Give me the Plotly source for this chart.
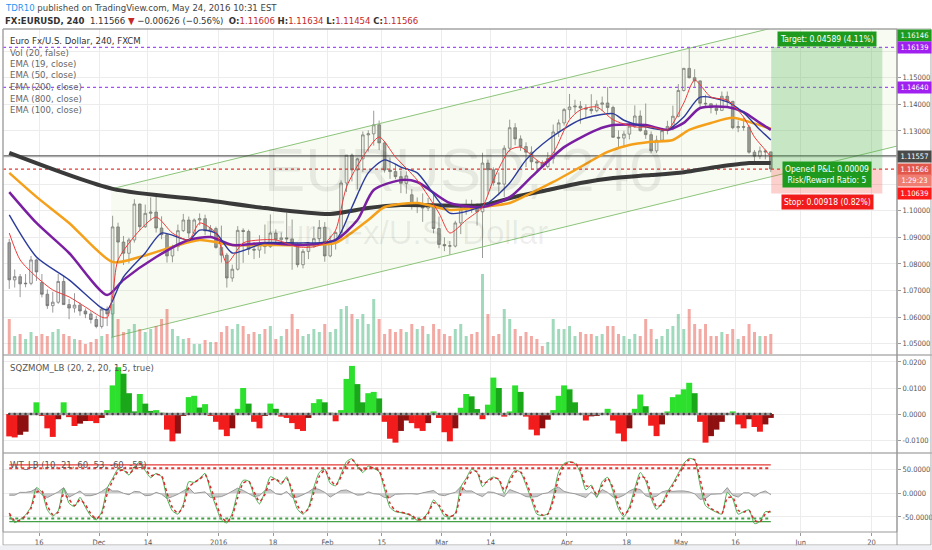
import pandas as pd
import plotly.graph_objects as go

FONT = "Liberation Sans Narrow, DejaVu Sans Condensed, Roboto, sans-serif"

# ---- daily bars (FX:EURUSD, Nov 2015 - May 2016) ----
dates = [
    '2015-11-06',
    '2015-11-09', '2015-11-10', '2015-11-11', '2015-11-12', '2015-11-13',
    '2015-11-16', '2015-11-17', '2015-11-18', '2015-11-19', '2015-11-20',
    '2015-11-23', '2015-11-24', '2015-11-25', '2015-11-26', '2015-11-27',
    '2015-11-30', '2015-12-01', '2015-12-02', '2015-12-03', '2015-12-04',
    '2015-12-07', '2015-12-08', '2015-12-09', '2015-12-10', '2015-12-11',
    '2015-12-14', '2015-12-15', '2015-12-16', '2015-12-17', '2015-12-18',
    '2015-12-21', '2015-12-22', '2015-12-23', '2015-12-24',
    '2015-12-28', '2015-12-29', '2015-12-30', '2015-12-31',
    '2016-01-04', '2016-01-05', '2016-01-06', '2016-01-07', '2016-01-08',
    '2016-01-11', '2016-01-12', '2016-01-13', '2016-01-14', '2016-01-15',
    '2016-01-18', '2016-01-19', '2016-01-20', '2016-01-21', '2016-01-22',
    '2016-01-25', '2016-01-26', '2016-01-27', '2016-01-28', '2016-01-29',
    '2016-02-01', '2016-02-02', '2016-02-03', '2016-02-04', '2016-02-05',
    '2016-02-08', '2016-02-09', '2016-02-10', '2016-02-11', '2016-02-12',
    '2016-02-15', '2016-02-16', '2016-02-17', '2016-02-18', '2016-02-19',
    '2016-02-22', '2016-02-23', '2016-02-24', '2016-02-25', '2016-02-26',
    '2016-02-29', '2016-03-01', '2016-03-02', '2016-03-03', '2016-03-04',
    '2016-03-07', '2016-03-08', '2016-03-09', '2016-03-10', '2016-03-11',
    '2016-03-14', '2016-03-15', '2016-03-16', '2016-03-17', '2016-03-18',
    '2016-03-21', '2016-03-22', '2016-03-23', '2016-03-24', '2016-03-25',
    '2016-03-28', '2016-03-29', '2016-03-30', '2016-03-31', '2016-04-01',
    '2016-04-04', '2016-04-05', '2016-04-06', '2016-04-07', '2016-04-08',
    '2016-04-11', '2016-04-12', '2016-04-13', '2016-04-14', '2016-04-15',
    '2016-04-18', '2016-04-19', '2016-04-20', '2016-04-21', '2016-04-22',
    '2016-04-25', '2016-04-26', '2016-04-27', '2016-04-28', '2016-04-29',
    '2016-05-02', '2016-05-03', '2016-05-04', '2016-05-05', '2016-05-06',
    '2016-05-09', '2016-05-10', '2016-05-11', '2016-05-12', '2016-05-13',
    '2016-05-16', '2016-05-17', '2016-05-18', '2016-05-19', '2016-05-20',
    '2016-05-23', '2016-05-24',
]

opens = [
    1.0880,
    1.0740, 1.0752, 1.0725, 1.0727, 1.0815,
    1.0730, 1.0686, 1.0643, 1.0656, 1.0734,
    1.0647, 1.0634, 1.0645, 1.0623, 1.0612,
    1.0591, 1.0565, 1.0630, 1.0612, 1.0939,
    1.0882, 1.0840, 1.0890, 1.1025, 1.0940,
    1.0990, 1.0995, 1.0935, 1.0910, 1.0830,
    1.0865, 1.0925, 1.0965, 1.0916,
    1.0965, 1.0970, 1.0924, 1.0933,
    1.0862, 1.0833, 1.0747, 1.0780, 1.0926,
    1.0922, 1.0855, 1.0852, 1.0875, 1.0865,
    1.0916, 1.0891, 1.0898, 1.0894, 1.0874,
    1.0797, 1.0847, 1.0867, 1.0895, 1.0937,
    1.0830, 1.0886, 1.0918, 1.1104, 1.1209,
    1.1153, 1.1195, 1.1285, 1.1289, 1.1323,
    1.1255, 1.1153, 1.1147, 1.1128, 1.1103,
    1.1060, 1.1016, 1.1016, 1.1010, 1.1024,
    1.0933, 1.0873, 1.0868, 1.0867, 1.0954,
    1.1003, 1.1015, 1.1011, 1.0996, 1.1179,
    1.1154, 1.1105, 1.1100, 1.1235, 1.1312,
    1.1270, 1.1241, 1.1220, 1.1184, 1.1180,
    1.1166, 1.1196, 1.1296, 1.1330, 1.1380,
    1.1390, 1.1393, 1.1386, 1.1382, 1.1376,
    1.1400, 1.1405, 1.1388, 1.1276, 1.1273,
    1.1288, 1.1318, 1.1356, 1.1301, 1.1286,
    1.1225, 1.1265, 1.1301, 1.1317, 1.1355,
    1.1452, 1.1535, 1.1500, 1.1488, 1.1404,
    1.1402, 1.1387, 1.1377, 1.1430, 1.1411,
    1.1312, 1.1316, 1.1314, 1.1220, 1.1205,
    1.1225, 1.1221,
]

highs = [
    1.0894,
    1.0779, 1.0762, 1.0762, 1.0830, 1.0820,
    1.0762, 1.0704, 1.0695, 1.0762, 1.0755,
    1.0668, 1.0690, 1.0655, 1.0633, 1.0622,
    1.0605, 1.0640, 1.0640, 1.0981, 1.0955,
    1.0905, 1.0898, 1.1043, 1.1027, 1.1023,
    1.1050, 1.1059, 1.0979, 1.0914, 1.0872,
    1.0948, 1.0988, 1.0978, 1.0971,
    1.0990, 1.0985, 1.0946, 1.0940,
    1.0944, 1.0841, 1.0797, 1.0942, 1.0934,
    1.0929, 1.0882, 1.0908, 1.0948, 1.0986,
    1.0930, 1.0918, 1.0993, 1.0967, 1.0878,
    1.0856, 1.0874, 1.0940, 1.0965, 1.0957,
    1.0906, 1.0925, 1.1114, 1.1209, 1.1215,
    1.1199, 1.1298, 1.1302, 1.1376, 1.1339,
    1.1260, 1.1200, 1.1176, 1.1150, 1.1148,
    1.1081, 1.1050, 1.1065, 1.1048, 1.1059,
    1.0978, 1.0900, 1.0886, 1.0962, 1.1022,
    1.1042, 1.1041, 1.1028, 1.1218, 1.1192,
    1.1163, 1.1144, 1.1246, 1.1342, 1.1329,
    1.1283, 1.1257, 1.1242, 1.1190, 1.1189,
    1.1220, 1.1324, 1.1343, 1.1386, 1.1439,
    1.1417, 1.1412, 1.1400, 1.1438, 1.1415,
    1.1429, 1.1465, 1.1395, 1.1302, 1.1300,
    1.1334, 1.1396, 1.1377, 1.1403, 1.1298,
    1.1282, 1.1310, 1.1338, 1.1395, 1.1476,
    1.1537, 1.1616, 1.1532, 1.1490, 1.1436,
    1.1403, 1.1403, 1.1448, 1.1448, 1.1413,
    1.1339, 1.1350, 1.1321, 1.1228, 1.1241,
    1.1230, 1.1223,
]

lows = [
    1.0706,
    1.0711, 1.0675, 1.0712, 1.0720, 1.0736,
    1.0674, 1.0631, 1.0617, 1.0650, 1.0646,
    1.0592, 1.0617, 1.0605, 1.0596, 1.0576,
    1.0558, 1.0557, 1.0566, 1.0524, 1.0803,
    1.0796, 1.0802, 1.0880, 1.0926, 1.0935,
    1.0963, 1.0918, 1.0893, 1.0805, 1.0806,
    1.0848, 1.0920, 1.0898, 1.0912,
    1.0945, 1.0908, 1.0900, 1.0857,
    1.0805, 1.0711, 1.0733, 1.0775, 1.0804,
    1.0834, 1.0818, 1.0823, 1.0838, 1.0860,
    1.0871, 1.0868, 1.0880, 1.0778, 1.0787,
    1.0783, 1.0818, 1.0860, 1.0883, 1.0808,
    1.0825, 1.0854, 1.0898, 1.1070, 1.1110,
    1.1080, 1.1146, 1.1222, 1.1245, 1.1228,
    1.1143, 1.1120, 1.1118, 1.1066, 1.1064,
    1.1004, 1.0991, 1.0958, 1.0999, 1.0915,
    1.0859, 1.0848, 1.0834, 1.0862, 1.0912,
    1.0985, 1.0992, 1.0944, 1.0822, 1.1060,
    1.1094, 1.1057, 1.1052, 1.1222, 1.1246,
    1.1225, 1.1164, 1.1157, 1.1144, 1.1163,
    1.1159, 1.1177, 1.1277, 1.1320, 1.1346,
    1.1366, 1.1327, 1.1347, 1.1364, 1.1370,
    1.1375, 1.1367, 1.1275, 1.1234, 1.1244,
    1.1268, 1.1311, 1.1297, 1.1270, 1.1216,
    1.1217, 1.1260, 1.1287, 1.1302, 1.1351,
    1.1448, 1.1497, 1.1466, 1.1384, 1.1388,
    1.1366, 1.1361, 1.1376, 1.1390, 1.1306,
    1.1295, 1.1301, 1.1214, 1.1183, 1.1194,
    1.1193, 1.1145,
]

closes = [
    1.0740,
    1.0752, 1.0725, 1.0727, 1.0815, 1.0770,
    1.0686, 1.0643, 1.0656, 1.0734, 1.0647,
    1.0634, 1.0645, 1.0623, 1.0612, 1.0591,
    1.0565, 1.0630, 1.0612, 1.0939, 1.0882,
    1.0840, 1.0890, 1.1025, 1.0940, 1.0990,
    1.0995, 1.0935, 1.0910, 1.0830, 1.0865,
    1.0925, 1.0965, 1.0916, 1.0965,
    1.0970, 1.0924, 1.0933, 1.0862,
    1.0833, 1.0747, 1.0780, 1.0926, 1.0922,
    1.0855, 1.0852, 1.0875, 1.0865, 1.0916,
    1.0891, 1.0898, 1.0894, 1.0874, 1.0797,
    1.0847, 1.0867, 1.0895, 1.0937, 1.0830,
    1.0886, 1.0918, 1.1104, 1.1209, 1.1153,
    1.1195, 1.1285, 1.1289, 1.1323, 1.1255,
    1.1153, 1.1147, 1.1128, 1.1103, 1.1131,
    1.1016, 1.1016, 1.1010, 1.1024, 1.0933,
    1.0873, 1.0868, 1.0867, 1.0954, 1.1003,
    1.1015, 1.1011, 1.0996, 1.1179, 1.1154,
    1.1105, 1.1100, 1.1235, 1.1312, 1.1270,
    1.1241, 1.1220, 1.1184, 1.1180, 1.1166,
    1.1196, 1.1296, 1.1330, 1.1380, 1.1390,
    1.1393, 1.1386, 1.1382, 1.1376, 1.1400,
    1.1405, 1.1388, 1.1276, 1.1273, 1.1288,
    1.1318, 1.1356, 1.1301, 1.1286, 1.1225,
    1.1265, 1.1301, 1.1317, 1.1355, 1.1452,
    1.1535, 1.1500, 1.1488, 1.1404, 1.1402,
    1.1387, 1.1377, 1.1430, 1.1411, 1.1312,
    1.1316, 1.1314, 1.1220, 1.1205, 1.1225,
    1.1221, 1.11566,
]

volumes = [
    17500,
    9000, 10000, 7500, 11000, 9000,
    10000, 9000, 11000, 12500, 10000,
    9000, 7500, 7000, 5000, 6000,
    7500, 9000, 10000, 25000, 17500,
    11000, 12500, 15000, 12500, 11000,
    12500, 14000, 17500, 22500, 12500,
    9000, 7500, 8000, 5000,
    5000, 7000, 6000, 6000,
    11000, 14000, 12500, 15000, 14000,
    10000, 11000, 10000, 12500, 14000,
    7500, 9000, 12500, 20000, 12500,
    9000, 10000, 12500, 11000, 15000,
    11000, 12500, 22500, 24000, 20000,
    17500, 20000, 15000, 27500, 17500,
    10000, 12500, 11000, 12500, 11000,
    15000, 12500, 14000, 10000, 15000,
    12500, 10000, 9000, 12500, 15000,
    9000, 10000, 11000, 40000, 20000,
    9000, 10000, 22500, 17500, 12500,
    9000, 11000, 9000, 7500, 4000,
    6000, 17500, 12500, 12500, 14000,
    9000, 11000, 10000, 10000, 9000,
    10000, 14000, 14000, 10000, 9000,
    7500, 10000, 9000, 17500, 12500,
    7500, 9000, 12500, 14000, 20000,
    12500, 22500, 15000, 12500, 15000,
    9000, 9000, 11000, 10000, 12500,
    7500, 9000, 15000, 11000, 9000,
    9000, 10000,
]

# SQZMOM_LB histogram, one value per day
sqz_mom = [
    -0.0086,
    -0.0090, -0.0080, -0.0068, 0.0003, 0.0045,
    -0.0005, -0.0055, -0.0088, -0.0020, 0.0045,
    -0.0012, -0.0046, -0.0037, -0.0027, -0.0027,
    -0.0035, -0.0015, 0.0015, 0.0110, 0.0180,
    0.0155, 0.0080, 0.0010, 0.0077, 0.0040,
    0.0012, 0.0015, 0.0005, -0.0060, -0.0105,
    -0.0075, -0.0005, 0.0065, 0.0070,
    0.0025, 0.0038, -0.0005, -0.0030,
    -0.0060, -0.0085, -0.0055, 0.0020, 0.0100,
    0.0040, -0.0030, -0.0055, -0.0005, 0.0040,
    0.0020, -0.0010, -0.0015, -0.0035, -0.0058,
    -0.0065, -0.0015, 0.0042, 0.0057, 0.0045,
    0.0005, -0.0028, 0.0015, 0.0135, 0.0185,
    0.0115, 0.0045, 0.0080, 0.0085, 0.0060,
    -0.0030, -0.0095, -0.0110, -0.0065, -0.0025,
    -0.0035, -0.0055, -0.0065, -0.0035, 0.0010,
    -0.0015, -0.0070, -0.0105, -0.0055, 0.0024,
    0.0077, 0.0068, 0.0019, -0.0020, 0.0036,
    0.0140, 0.0100, -0.0010, 0.0010, 0.0110,
    0.0085, -0.0010, -0.0060, -0.0082, -0.0055,
    -0.0022, 0.0015, 0.0070, 0.0110, 0.0095,
    0.0045, 0.0000, -0.0025, -0.0009, -0.0007,
    0.0000, 0.0020, -0.0025, -0.0075, -0.0105,
    -0.0055, 0.0020, 0.0075, 0.0030, -0.0045,
    -0.0085, -0.0040, 0.0010, 0.0065, 0.0075,
    0.0095, 0.0120, 0.0080, -0.0030, -0.0110,
    -0.0085, -0.0060, -0.0030, 0.0000, 0.0010,
    -0.0040, -0.0055, -0.0020, -0.0050, -0.0068,
    -0.0040, -0.0015,
]

# WT_LB wave lines and their difference, one value per day
wt1 = [
    -45.7,
    -62.0, -55.0, -45.7, -28.0, 12.0,
    2.0, -35.0, -48.0, -37.0, 10.5,
    -21.0, -28.0, -8.5, -29.5, -48.0,
    -56.0, -38.7, 10.5, 31.6, 51.0,
    49.0, 38.6, 56.0, 66.0, 47.8,
    33.0, 42.0, 35.0, -10.6, -37.0,
    -44.0, -23.0, 24.6, 23.0,
    31.6, 42.0, 5.0, -28.0,
    -56.0, -62.6, -42.0, 2.0, 27.4,
    26.0, -3.6, -22.5, 3.5, 35.0,
    29.5, 19.0, 35.0, -1.4, -34.0,
    -44.0, -30.0, 12.6, 44.0, 51.0,
    21.0, 16.0, 40.7, 66.7, 73.0,
    56.0, 44.0, 57.6, 52.7, 45.6,
    7.7, -30.0, -38.7, -40.8, -43.6,
    -48.0, -57.0, -54.0, -40.0, -14.0,
    -28.0, -48.0, -50.0, -42.0, 13.0,
    31.6, 51.0, 44.0, 14.0, 28.0,
    34.4, 28.0, 0.0, 31.6, 49.0,
    44.0, 17.5, -14.0, -44.0, -47.0,
    -43.0, -7.0, 45.6, 63.0, 66.7,
    63.0, 44.0, 7.0, 17.5, -9.0,
    24.6, 33.7, 3.5, -33.0, -49.3,
    -28.0, 10.5, 44.0, 26.0, -10.6,
    -34.0, -21.0, 3.5, 21.0, 42.0,
    63.0, 73.8, 70.0, 17.5, -26.0,
    -34.0, -40.0, -44.0, 2.0, -12.0,
    -44.0, -38.7, -35.0, -64.0, -59.8,
    -38.7, -40.0,
]

wt2 = [
    -41.7,
    -58.0, -57.0, -47.7, -32.0, 2.0,
    5.0, -26.0, -45.0, -40.0, -1.5,
    -13.0, -26.0, -13.5, -24.5, -43.0,
    -54.0, -42.7, -1.5, 26.6, 46.0,
    49.0, 41.6, 52.0, 63.0, 52.8,
    37.0, 40.0, 37.0, 0.4, -30.0,
    -42.0, -28.0, 12.6, 23.0,
    29.6, 39.0, 14.0, -20.0,
    -49.0, -60.6, -47.0, -9.0, 21.4,
    26.0, 3.4, -17.5, -2.5, 27.0,
    30.5, 22.0, 31.0, 7.6, -26.0,
    -41.0, -33.0, 1.6, 36.0, 49.0,
    29.0, 17.0, 34.7, 59.7, 71.0,
    60.0, 47.0, 54.6, 53.7, 47.6,
    16.7, -21.0, -36.7, -39.8, -42.6,
    -47.0, -55.0, -55.0, -43.0, -20.0,
    -25.0, -43.0, -49.0, -44.0, -1.0,
    26.6, 46.0, 46.0, 21.0, 25.0,
    32.4, 30.0, 7.0, 23.6, 45.0,
    45.0, 24.5, -6.0, -37.0, -46.0,
    -44.0, -16.0, 32.6, 59.0, 65.7,
    64.0, 49.0, 16.0, 14.5, -2.0,
    16.6, 31.7, 11.5, -24.0, -45.3,
    -33.0, 0.5, 36.0, 31.0, -1.6,
    -28.0, -24.0, -2.5, 17.0, 37.0,
    58.0, 70.8, 71.0, 30.5, -15.0,
    -32.0, -38.0, -43.0, -10.0, -8.0,
    -36.0, -39.7, -36.0, -57.0, -60.8,
    -43.7, -37.0,
]

wt_diff = [
    -4,
    -4, 2, 2, 4, 10,
    -3, -9, -3, 3, 12,
    -8, -2, 5, -5, -5,
    -2, 4, 12, 5, 5,
    0, -3, 4, 3, -5,
    -4, 2, -2, -11, -7,
    -2, 5, 12, 0,
    2, 3, -9, -8,
    -7, -2, 5, 11, 6,
    0, -7, -5, 6, 8,
    -1, -3, 4, -9, -8,
    -3, 3, 11, 8, 2,
    -8, -1, 6, 7, 2,
    -4, -3, 3, -1, -2,
    -9, -9, -2, -1, -1,
    -1, -2, 1, 3, 6,
    -3, -5, -1, 2, 14,
    5, 5, -2, -7, 3,
    2, -2, -7, 8, 4,
    -1, -7, -8, -7, -1,
    1, 9, 13, 4, 1,
    -1, -5, -9, 3, -7,
    8, 2, -8, -9, -4,
    5, 10, 8, -5, -9,
    -6, 3, 6, 4, 5,
    5, 3, -1, -13, -11,
    -2, -2, -1, 12, -4,
    -8, 1, 1, -7, 1,
    5, -3,
]
wt_levels = [60, 53, -53, -60]

# EMAs read at intervals along each line
ema19_dates = ['2015-11-06', '2015-11-10', '2015-11-13', '2015-11-18', '2015-11-23', '2015-11-26',
               '2015-12-01', '2015-12-02', '2015-12-03', '2015-12-04', '2015-12-10', '2015-12-15',
               '2015-12-18', '2015-12-23', '2015-12-28', '2015-12-31', '2016-01-05', '2016-01-08',
               '2016-01-13', '2016-01-18', '2016-01-22', '2016-01-27', '2016-01-29', '2016-02-02',
               '2016-02-04', '2016-02-09', '2016-02-12', '2016-02-17', '2016-02-23', '2016-02-29',
               '2016-03-02', '2016-03-07', '2016-03-10', '2016-03-14', '2016-03-17', '2016-03-21',
               '2016-03-25', '2016-03-29', '2016-04-01', '2016-04-05', '2016-04-08', '2016-04-13',
               '2016-04-19', '2016-04-22', '2016-04-27', '2016-05-02', '2016-05-04', '2016-05-09',
               '2016-05-12', '2016-05-17', '2016-05-19', '2016-05-23', '2016-05-24']
ema19 = [1.0916, 1.0815, 1.0751, 1.0702, 1.0676, 1.0638,
         1.0600, 1.0598, 1.0680, 1.0815, 1.0927, 1.0976,
         1.0916, 1.0890, 1.0954, 1.0916, 1.0803, 1.0879,
         1.0890, 1.0890, 1.0864, 1.0864, 1.0879, 1.0927,
         1.1089, 1.1202, 1.1277, 1.1202, 1.1115, 1.0991,
         1.0916, 1.0965, 1.1014, 1.1115, 1.1228, 1.1239,
         1.1179, 1.1217, 1.1342, 1.1379, 1.1390, 1.1342,
         1.1315, 1.1315, 1.1304, 1.1405, 1.1491, 1.1427,
         1.1416, 1.1352, 1.1277, 1.1228, 1.1202]

ema50_dates = ['2015-11-06', '2015-11-13', '2015-11-23', '2015-12-01', '2015-12-02', '2015-12-07',
               '2015-12-11', '2015-12-16', '2015-12-23', '2015-12-28', '2015-12-31', '2016-01-06',
               '2016-01-14', '2016-01-25', '2016-02-02', '2016-02-05', '2016-02-10', '2016-02-15',
               '2016-02-18', '2016-02-23', '2016-03-02', '2016-03-08', '2016-03-11', '2016-03-17',
               '2016-03-22', '2016-03-28', '2016-04-05', '2016-04-13', '2016-04-15', '2016-04-21',
               '2016-04-27', '2016-05-02', '2016-05-05', '2016-05-12', '2016-05-17', '2016-05-20',
               '2016-05-24']
ema50 = [1.0984, 1.0826, 1.0740, 1.0634, 1.0627, 1.0751,
         1.0841, 1.0916, 1.0890, 1.0927, 1.0916, 1.0841,
         1.0879, 1.0879, 1.0890, 1.1014, 1.1142, 1.1191,
         1.1164, 1.1142, 1.0991, 1.1003, 1.1029, 1.1104,
         1.1191, 1.1266, 1.1342, 1.1365, 1.1340, 1.1315,
         1.1304, 1.1352, 1.1427, 1.1409, 1.1368, 1.1304,
         1.1266]

ema100_dates = ['2015-11-06', '2015-11-13', '2015-11-23', '2015-12-02', '2015-12-07', '2015-12-15',
                '2015-12-23', '2015-12-30', '2016-01-06', '2016-01-14', '2016-01-25', '2016-02-02',
                '2016-02-08', '2016-02-11', '2016-02-18', '2016-02-23', '2016-03-02', '2016-03-10',
                '2016-03-17', '2016-03-23', '2016-03-31', '2016-04-08', '2016-04-13', '2016-04-21',
                '2016-04-27', '2016-05-02', '2016-05-05', '2016-05-12', '2016-05-17', '2016-05-20',
                '2016-05-24']
ema100 = [1.1070, 1.0954, 1.0841, 1.0683, 1.0740, 1.0826,
          1.0890, 1.0901, 1.0871, 1.0879, 1.0871, 1.0890,
          1.0965, 1.1078, 1.1115, 1.1108, 1.1029, 1.1014,
          1.1051, 1.1127, 1.1239, 1.1304, 1.1322, 1.1322,
          1.1304, 1.1330, 1.1386, 1.1390, 1.1371, 1.1330,
          1.1304]

ema200_dates = ['2015-11-06', '2015-11-13', '2015-11-23', '2015-12-03', '2015-12-10', '2015-12-18',
                '2015-12-28', '2016-01-06', '2016-01-14', '2016-01-25', '2016-02-02', '2016-02-10',
                '2016-02-15', '2016-02-23', '2016-03-02', '2016-03-10', '2016-03-17', '2016-03-23',
                '2016-03-29', '2016-04-05', '2016-04-12', '2016-04-18', '2016-04-22', '2016-04-28',
                '2016-05-03', '2016-05-09', '2016-05-13', '2016-05-18', '2016-05-24']
ema200 = [1.1142, 1.1052, 1.0954, 1.0807, 1.0826, 1.0864,
          1.0890, 1.0871, 1.0871, 1.0871, 1.0879, 1.0965,
          1.1014, 1.1029, 1.1003, 1.1014, 1.1029, 1.1067,
          1.1108, 1.1164, 1.1221, 1.1247, 1.1259, 1.1266,
          1.1304, 1.1330, 1.1349, 1.1334, 1.1308]

ema800_dates = ['2015-11-06', '2015-12-03', '2015-12-29', '2016-01-14', '2016-02-01', '2016-02-10',
                '2016-02-18', '2016-03-10', '2016-03-18', '2016-03-28', '2016-04-05', '2016-04-13',
                '2016-04-22', '2016-05-02', '2016-05-10', '2016-05-18', '2016-05-24']
ema800 = [1.1217, 1.1082, 1.1040, 1.1010, 1.0988, 1.1010,
          1.1021, 1.1021, 1.1052, 1.1078, 1.1104, 1.1123,
          1.1134, 1.1145, 1.1164, 1.1179, 1.1179]

# drawings on the chart
channel_dates = ['2015-12-03 06:00', '2016-06-24 16:48']
channel_lower = [1.0524, 1.1243]
channel_upper = [1.1082, 1.1801]
purple_levels = [1.16139, 1.14640]
black_level = 1.1206
last_close = 1.11566
target_price = 1.16155
stop_price = 1.10648
tool_dates = ['2016-05-24 14:00', '2016-06-22 00:00']

x_start, x_end = '2015-11-05 08:24', '2016-06-24 16:48'

tick_dates = ['2015-11-16', '2015-12-01', '2015-12-14', '2016-01-04', '2016-01-18', '2016-02-01',
              '2016-02-15', '2016-03-01', '2016-03-14', '2016-04-01', '2016-04-18', '2016-05-02',
              '2016-05-16', '2016-06-01', '2016-06-20']
tick_text = ['16', 'Dec', '14', '2016', '18', 'Feb', '15', 'Mar', '14', 'Apr', '18', 'May', '16', 'Jun', '20']


def mid(d):
    # daily bars sit in the middle of their day
    return pd.to_datetime(d) + pd.Timedelta(hours=12)


xb = mid(dates)
span = pd.to_datetime([x_start, x_end])
DAY = 86400000

fig = go.Figure()

# volume (overlay on the price pane)
vol_colors = ['rgba(83,185,135,0.55)' if c >= o else 'rgba(232,100,90,0.55)' for o, c in zip(opens, closes)]
fig.add_trace(go.Bar(x=xb, y=volumes, marker_color=vol_colors, marker_line_width=0,
                     width=0.55 * DAY, yaxis='y4'))

# parallel channel
chx = pd.to_datetime(channel_dates)
fig.add_trace(go.Scatter(x=chx, y=channel_lower, mode='lines', line=dict(color='#8cc47a', width=1)))
fig.add_trace(go.Scatter(x=chx, y=channel_upper, mode='lines', line=dict(color='#8cc47a', width=1),
                         fill='tonexty', fillcolor='rgba(139,195,74,0.07)'))

# horizontal levels
for lvl in purple_levels:
    fig.add_trace(go.Scatter(x=span, y=[lvl, lvl], mode='lines',
                             line=dict(color='#a64dff', width=1.3, dash='dot')))
fig.add_trace(go.Scatter(x=span, y=[black_level, black_level], mode='lines', line=dict(color='#333', width=1)))
fig.add_trace(go.Scatter(x=span, y=[last_close, last_close], mode='lines',
                         line=dict(color='#e53935', width=1.2, dash='dot')))

# candles
fig.add_trace(go.Candlestick(
    x=xb, open=opens, high=highs, low=lows, close=closes, whiskerwidth=0,
    increasing=dict(line=dict(color='#6f6f6f', width=0.7), fillcolor='#f2f2f2'),
    decreasing=dict(line=dict(color='#6f6f6f', width=0.7), fillcolor='#9a9a9a')))

# moving averages
for d, v, col, w in [(ema800_dates, ema800, '#3a3a3a', 4),
                     (ema200_dates, ema200, '#f5a01a', 2.5),
                     (ema100_dates, ema100, '#7b1fa2', 2.5),
                     (ema50_dates, ema50, '#2c3b9c', 1.4),
                     (ema19_dates, ema19, '#ee3b3b', 1)]:
    fig.add_trace(go.Scatter(x=mid(d), y=v, mode='lines',
                             line=dict(color=col, width=w, shape='spline', smoothing=0.7)))

# SQZMOM pane
sq_colors = []
prev = 0
for v in sqz_mom:
    if v >= 0:
        sq_colors.append('#2ee02e' if v >= prev else '#1aa81a')
    else:
        sq_colors.append('#f21c1c' if v <= prev else '#8e1010')
    prev = v
fig.add_trace(go.Bar(x=xb, y=sqz_mom, marker_color=sq_colors, marker_line_width=0,
                     width=1.1 * DAY, yaxis='y2'))
fig.add_trace(go.Scatter(x=xb, y=[0] * len(dates), mode='lines+markers', yaxis='y2',
                         line=dict(color='#9e9e9e', width=2.5),
                         marker=dict(color='#444', size=2.5)))

# WT_LB pane
lv_style = [('#e53935', None, 1.2), ('#e53935', 'dot', 2), ('#43a047', 'dot', 2), ('#43a047', None, 1.2)]
for lvl, (col, dash, w) in zip(wt_levels, lv_style):
    fig.add_trace(go.Scatter(x=[xb[0], xb[-1]], y=[lvl, lvl], mode='lines', yaxis='y3',
                             line=dict(color=col, width=w, dash=dash)))
fig.add_trace(go.Scatter(x=xb, y=wt_diff, mode='lines', yaxis='y3', fill='tozeroy',
                         fillcolor='rgba(140,140,140,0.45)', line=dict(color='#999', width=1)))
fig.add_trace(go.Scatter(x=xb, y=wt1, mode='lines', yaxis='y3',
                         line=dict(color='#4caf50', width=1, shape='spline', smoothing=0.6)))
fig.add_trace(go.Scatter(x=xb, y=wt2, mode='lines', yaxis='y3',
                         line=dict(color='#d32f2f', width=1.5, dash='dot', shape='spline', smoothing=0.6)))

# ---- layout ----
GRID = '#ececec'
TICKF = dict(family=FONT, size=7.5, color='#555')
price_ticks = [1.05, 1.06, 1.07, 1.08, 1.09, 1.10, 1.11, 1.12, 1.13, 1.14, 1.15, 1.16]
price_text = ['1.05000', '1.06000', '1.07000', '1.08000', '1.09000', '1.10000', '', '',
              '1.13000', '1.14000', '1.15000', '']

TOP, BOTTOM = 29, 532   # pixel rows of the plotting area


def yp(px):
    # pixel row -> paper coordinate of the plotting area
    return (BOTTOM - px) / (BOTTOM - TOP)


ann = []
ann.append(dict(xref='paper', yref='paper', x=0, y=yp(7), xanchor='left', yanchor='middle', showarrow=False,
                text="<span style='color:#2196f3'>TDR10</span> published on TradingView.com, May 24, 2016 10:31 EST",
                font=dict(size=9.5, color='#444')))
red = "style='color:#c62828'"
ann.append(dict(xref='paper', yref='paper', x=0, y=yp(20), xanchor='left', yanchor='middle', showarrow=False,
                text=f"<b>FX:EURUSD, 240</b>  1.11566 <span {red}>▼</span> −0.00626 (−0.56%)  "
                     f"<b>O:</b><span {red}>1.11606</span> <b>H:</b><span {red}>1.11634</span> "
                     f"<b>L:</b><span {red}>1.11454</span> <b>C:</b><span {red}>1.11566</span>",
                font=dict(size=9.5, color='#333')))

legend_rows = [('Euro Fx/U.S. Dollar, 240, FXCM', 40.7, '#333'), ('Vol (20, false)', 52.3, '#666'),
               ('EMA (19, close)', 63.3, '#666'), ('EMA (50, close)', 75, '#666'),
               ('EMA (200, close)', 86.7, '#666'), ('EMA (800, close)', 98.3, '#666'),
               ('EMA (100, close)', 110, '#666'),
               ('SQZMOM_LB (20, 2, 20, 1.5, true)', 367.3, '#555'),
               ('WT_LB (10, 21, 60, 53, -60, -53)', 464.3, '#555')]
for txt, py, col in legend_rows:
    ann.append(dict(xref='paper', yref='paper', x=0.0056, y=yp(py), xanchor='left', yanchor='middle',
                    showarrow=False, text=txt, font=dict(size=9.5, color=col)))

# watermark
ann.append(dict(xref='paper', yref='paper', x=0.2897, y=yp(169), xanchor='left', yanchor='middle',
                showarrow=False, text='EURUSD, 240',
                font=dict(family='Liberation Sans, Arial', size=62, color='rgba(0,0,0,0.07)')))
ann.append(dict(xref='paper', yref='paper', x=0.2897, y=yp(232), xanchor='left', yanchor='middle',
                showarrow=False, text='Euro Fx/U.S. Dollar',
                font=dict(family='Liberation Sans, Arial', size=33, color='rgba(0,0,0,0.07)')))

# long position labels
tool_mid = '2016-06-07 22:00'
for txt, price, bg in [('Target: 0.04589 (4.11%)', 1.1646, '#1e9b1e'),
                       ('Opened P&L: 0.00009<br>Risk/Reward Ratio: 5', 1.1138, '#1e9b1e'),
                       ('Stop: 0.00918 (0.82%)', 1.1034, '#f21b1b')]:
    ann.append(dict(xref='x', yref='y', x=tool_mid, y=price, showarrow=False, text=txt,
                    bgcolor=bg, borderpad=2, font=dict(size=8.5, color='white')))

# price-axis badges
for txt, price, bg in [('1.16146', 1.1657, '#1e9b1e'), ('1.16139', 1.16139, '#a020f0'),
                       ('1.14640', 1.14640, '#a020f0'), ('1.11557', 1.1202, '#4a4a4a'),
                       ('1.11566', 1.11566, '#e2574c'), ('1:29:23', 1.1113, '#ef7d72'),
                       ('1.10639', 1.10648, '#ff1a1a')]:
    ann.append(dict(xref='paper', yref='y', x=1.0, y=price, xanchor='left', yanchor='middle',
                    showarrow=False, text=txt, bgcolor=bg, width=31, borderpad=1,
                    font=dict(size=7.5, color='white')))

shapes = [
    dict(type='rect', xref='x', yref='y', x0=tool_dates[0], x1=tool_dates[1], y0=last_close, y1=target_price,
         fillcolor='rgba(76,175,80,0.28)', line_width=0, layer='above'),
    dict(type='rect', xref='x', yref='y', x0=tool_dates[0], x1=tool_dates[1], y0=stop_price, y1=last_close,
         fillcolor='rgba(244,67,54,0.25)', line_width=0, layer='above'),
    dict(type='rect', xref='paper', yref='paper', x0=0, x1=1, y0=0, y1=1, line=dict(color='#999', width=1)),
    dict(type='line', xref='paper', yref='paper', x0=0, x1=1.039, y0=yp(355), y1=yp(355),
         line=dict(color='#8a8a8a', width=1.2)),
    dict(type='line', xref='paper', yref='paper', x0=0, x1=1.039, y0=yp(453), y1=yp(453),
         line=dict(color='#8a8a8a', width=1.2)),
    dict(type='rect', xref='paper', yref='paper', x0=0, x1=1.038, y0=yp(545), y1=1,
         line=dict(color='#aaa', width=1)),
    dict(type='line', xref='paper', yref='paper', x0=1, x1=1, y0=yp(545), y1=1, line=dict(color='#999', width=1)),
    dict(type='rect', xref='paper', yref='paper', x0=-0.01, x1=1.05, y0=yp(551), y1=yp(545.5),
         fillcolor='#eef0f4', line_width=0),
]

fig.update_layout(
    width=932, height=550, margin=dict(l=3, r=35, t=TOP, b=550 - BOTTOM, autoexpand=False),
    paper_bgcolor='white', plot_bgcolor='white', showlegend=False, hovermode=False,
    font=dict(family=FONT, size=9, color='#333'),
    xaxis=dict(type='date', range=[x_start, x_end], anchor='y3', automargin=False,
               rangebreaks=[dict(bounds=['sat', 'mon']), dict(values=['2015-12-25', '2016-01-01'])],
               tickvals=tick_dates, ticktext=tick_text, tickfont=TICKF,
               showgrid=True, gridcolor=GRID, ticks='outside', ticklen=3, tickcolor='#999',
               zeroline=False, rangeslider=dict(visible=False)),
    yaxis=dict(domain=[yp(354), 1], range=[1.04613, 1.16831], side='right', anchor='x', automargin=False,
               tickvals=price_ticks, ticktext=price_text, tickfont=TICKF,
               gridcolor=GRID, ticks='outside', ticklen=3, tickcolor='#999', zeroline=False),
    yaxis2=dict(domain=[yp(452), yp(356)], range=[-0.0146, 0.0223], side='right', anchor='x', automargin=False,
                tickvals=[-0.01, 0, 0.01, 0.02], ticktext=['-0.0100', '0.0000', '0.0100', '0.0200'],
                tickfont=TICKF, gridcolor=GRID, ticks='outside', ticklen=3, tickcolor='#999', zeroline=False),
    yaxis3=dict(domain=[0, yp(454)], range=[-81.7, 83], side='right', anchor='x', automargin=False,
                tickvals=[-50, 0, 50], ticktext=['-50.0000', '0.0000', '50.0000'],
                tickfont=TICKF, gridcolor=GRID, ticks='outside', ticklen=3, tickcolor='#999', zeroline=False),
    yaxis4=dict(overlaying='y', range=[0, 162500], visible=False, showgrid=False),
    annotations=ann, shapes=shapes,
)

# the page body carries a default 8px margin; drop it so the figure sits at the window's corner
fig.write_html("out.html", config={'displayModeBar': False},
               post_script="document.body.style.margin='0px';")
